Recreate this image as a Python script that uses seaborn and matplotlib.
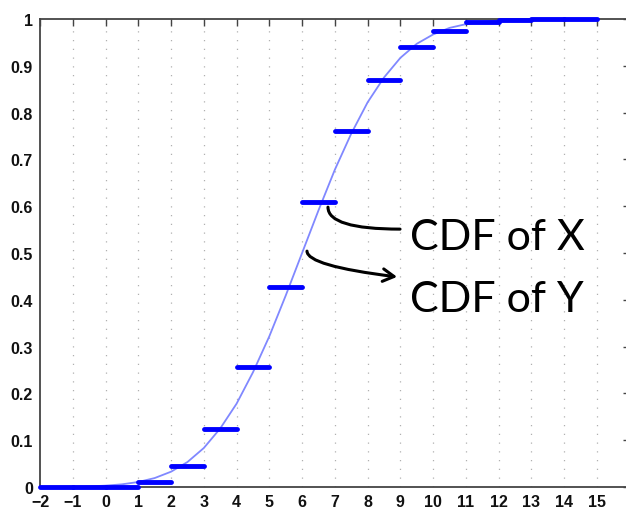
import matplotlib
matplotlib.use("Agg")
import matplotlib.pyplot as plt
import seaborn as sns
import numpy as np

# Step CDF of X: value on [k, k+1)
step_k = [-2, -1, 0, 1, 2, 3, 4, 5, 6, 7, 8, 9, 10, 11, 12, 13, 14]
step_F = [0.0, 0.0, 0.001, 0.010, 0.045, 0.124, 0.256, 0.427, 0.608, 0.760,
          0.870, 0.941, 0.975, 0.993, 0.998, 1.0, 1.0]

# Smooth CDF of Y
curve_x = [-2, -1.5, -1, -0.5, 0, 0.5, 1, 1.5, 2, 2.5, 3, 3.5, 4, 4.5, 5, 5.5,
           6, 6.5, 7, 7.5, 8, 8.5, 9, 9.5, 10, 10.5, 11, 11.5, 12, 12.5, 13,
           13.5, 14, 14.5, 15]
curve_y = [0.0001, 0.0003, 0.0006, 0.0013, 0.0029, 0.0057, 0.0107, 0.0191,
           0.0327, 0.0533, 0.0833, 0.125, 0.178, 0.245, 0.322, 0.409, 0.500,
           0.591, 0.678, 0.755, 0.822, 0.875, 0.917, 0.947, 0.967, 0.981,
           0.989, 0.994, 0.997, 0.9987, 0.9994, 0.9998, 1.0, 1.0, 1.0]

xticks = list(range(-2, 16))
yticks = [0, 0.1, 0.2, 0.3, 0.4, 0.5, 0.6, 0.7, 0.8, 0.9, 1]
ytick_labels = ["0", "0.1", "0.2", "0.3", "0.4", "0.5", "0.6", "0.7", "0.8", "0.9", "1"]

sns.set_style("white")
plt.rcParams['font.family'] = ['Liberation Sans', 'DejaVu Sans']

fig = plt.figure(figsize=(6.26, 5.10), dpi=100)
ax = fig.add_axes([40 / 626, 22 / 510, 589.7 / 626, 468 / 510])

ax.set_xlim(-2, 16)
ax.set_ylim(0, 1)

# vertical dotted grid
for xv in xticks[1:]:
    ax.axvline(xv, color='#b0b0b0', lw=0.9, ls=(0, (1, 6)), zorder=0)

sns.lineplot(x=curve_x, y=curve_y, ax=ax, color='#8088ff', lw=1.3, zorder=2)

ax.hlines(step_F, [k for k in step_k], [k + 1 for k in step_k], colors='#0000ff',
          lw=3.5, capstyle='round', zorder=3, clip_on=False)

ax.set_xticks(xticks)
ax.set_xticklabels([str(v).replace('-', '\u2212') for v in xticks])
ax.set_yticks(yticks)
ax.set_yticklabels(ytick_labels)
ax.tick_params(direction='in', length=5, width=1, color='#444444',
               top=True, right=True, labelsize=11.5, pad=5)
for lab in ax.get_xticklabels() + ax.get_yticklabels():
    lab.set_fontweight('bold')
    lab.set_color('#111111')
for sp in ax.spines.values():
    sp.set_color('#444444')
    sp.set_linewidth(1.3)

# annotations
hand = dict(fontsize=31, color='black', family=['Lato', 'DejaVu Sans'],
            fontweight='normal', va='baseline', ha='left')
ax.text(9.29, 0.509, "CDF of X", **hand)
ax.text(9.29, 0.376, "CDF of Y", **hand)

ax.annotate("", xy=(8.99, 0.551), xytext=(6.79, 0.598),
            arrowprops=dict(arrowstyle='-', color='black', lw=2.2,
                            connectionstyle='angle3,angleA=90,angleB=0',
                            shrinkA=0, shrinkB=0))
ax.annotate("", xy=(8.90, 0.449), xytext=(6.15, 0.504),
            arrowprops=dict(arrowstyle='->,head_length=0.8,head_width=0.45',
                            color='black', lw=2.2,
                            connectionstyle='angle3,angleA=90,angleB=-7',
                            shrinkA=0, shrinkB=0))

ax.set_xlabel("")
ax.set_ylabel("")
fig.savefig("out.png", dpi=100)
